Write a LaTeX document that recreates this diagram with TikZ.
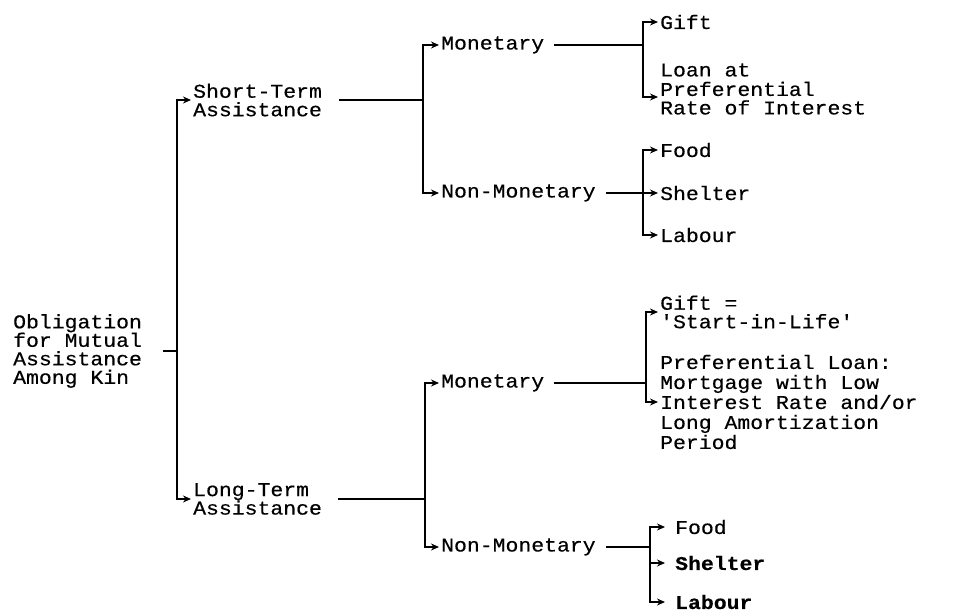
\documentclass[tikz,border=0pt]{standalone}
\usepackage{fontspec}
\setmonofont{Liberation Mono}[FakeStretch=1.1, FakeBold=0.4]
\usetikzlibrary{arrows.meta}

\tikzset{
  item/.style={font=\ttfamily\fontsize{19.5}{18.5}\selectfont, align=left,
    anchor=west, inner xsep=2pt, inner ysep=0pt},
  loose/.style={font=\ttfamily\fontsize{19.5}{20}\selectfont},
  heavy/.style={font=\ttfamily\bfseries\fontsize{19.5}{18.5}\selectfont},
  link/.style={line width=1.6pt},
  branch/.style={line width=1.3pt, -{Stealth[length=8pt,width=7pt]}},
  gap/.style={shorten <=8pt},
}

\begin{document}
\begin{tikzpicture}[x=1pt,y=-1pt]
  \useasboundingbox (0,0) rectangle (962,614);

  % kinship obligation
  \node[item] (root) at (11,351) {Obligation\\for Mutual\\Assistance\\Among Kin};
  \node[item] (short) at (191,100) {Short-Term\\Assistance};
  \node[item] (long) at (191,499) {Long-Term\\Assistance};

  % short-term branch
  \node[item] (smon) at (439,45) {Monetary};
  \node[item] (snon) at (439,193) {Non-Monetary};
  \node[item] (sgift) at (658,22) {Gift};
  \node[item] (sloan) at (658,89) {Loan at\\[1pt]Preferential\\Rate of Interest};
  \node[item] (sfood) at (658,150) {Food};
  \node[item] (sshelter) at (658,193) {Shelter};
  \node[item] (slabour) at (658,235) {Labour};

  % long-term branch
  \node[item] (lmon) at (439,383) {Monetary};
  \node[item] (lnon) at (439,547) {Non-Monetary};
  \node[item] (lgift) at (658,312) {Gift =\\'Start-in-Life'};
  \node[item, loose] (lloan) at (658,402) {Preferential Loan:\\Mortgage with Low\\Interest Rate and/or\\Long Amortization\\Period};
  \node[item, inner xsep=10pt] (lfood) at (665,527) {Food};
  \node[item, heavy, inner xsep=10pt] (lshelter) at (665,563) {Shelter};
  \node[item, heavy, inner xsep=10pt] (llabour) at (665,602) {Labour};

  \coordinate (j0) at (177,351);
  \coordinate (j1) at (423,100);
  \coordinate (j2) at (643,45);
  \coordinate (j3) at (643,193);
  \coordinate (j4) at (425,499);
  \coordinate (j5) at (646,383);
  \coordinate (j6) at (650,547);

  \draw[link, shorten <=19pt] (root.east) -- (j0);
  \draw[branch] (j0) |- (short.west);
  \draw[branch] (j0) |- (long.west);

  \draw[link, shorten <=15pt] (short.east) -- (j1);
  \draw[branch] (j1) |- (smon.west);
  \draw[branch] (j1) |- (snon.west);
  \draw[link, gap] (smon.east) -- (j2);
  \draw[branch] (j2) |- (sgift.west);
  \draw[branch] (j2) |- ([yshift=-8pt]sloan.west);
  \draw[link, gap] (snon.east) -- (j3);
  \draw[branch] (j3) -- (sshelter.west);
  \draw[branch] (j3) |- (sfood.west);
  \draw[branch] (j3) |- (slabour.west);

  \draw[link, shorten <=14pt] (long.east) -- (j4);
  \draw[branch] (j4) |- (lmon.west);
  \draw[branch] (j4) |- (lnon.west);
  \draw[link, gap] (lmon.east) -- (j5);
  \draw[branch] (j5) |- (lgift.west);
  \draw[branch] (j5) |- (lloan.west);
  \draw[link, gap] (lnon.east) -- (j6);
  \draw[branch] (j6) |- (lfood.west);
  \draw[branch] (j6) |- (lshelter.west);
  \draw[branch] (j6) |- (llabour.west);
\end{tikzpicture}
\end{document}
